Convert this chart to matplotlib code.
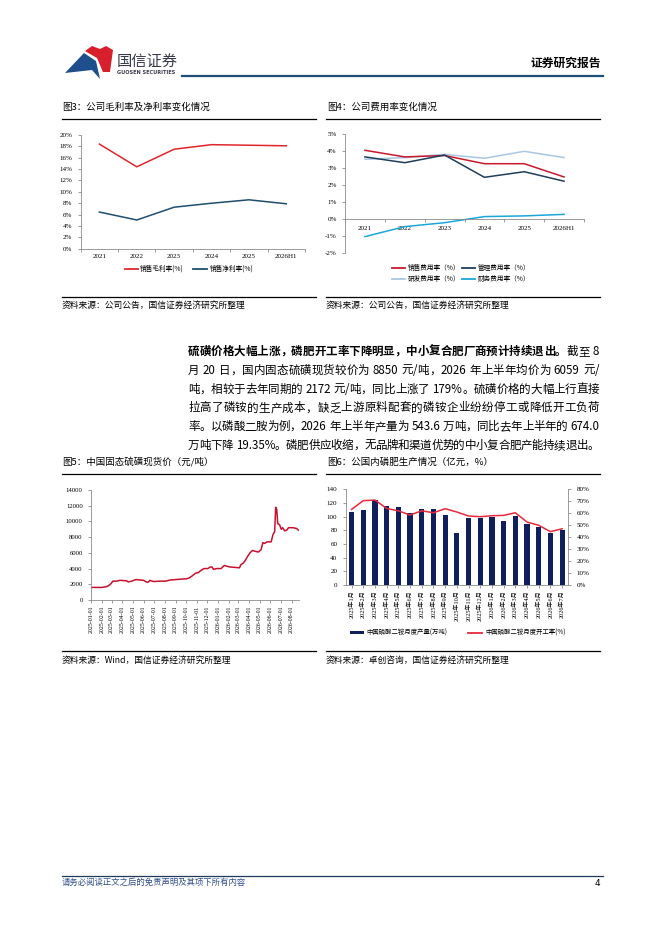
import re
import matplotlib
matplotlib.use("Agg")
import matplotlib.pyplot as plt
from matplotlib.lines import Line2D
from matplotlib.patches import Polygon, Rectangle
import numpy as np
import pandas as pd

plt.rcParams['font.family'] = ['Noto Sans CJK SC', 'DejaVu Sans']

W, H = 662, 936
CJK = ['Noto Sans CJK SC', 'DejaVu Sans']
SERIF = ['Liberation Serif', 'Noto Sans CJK SC']

# ---------------- data ----------------
years3 = ['2021', '2022', '2023', '2024', '2025', '2026H1']
gross_margin = [18.4, 14.4, 17.5, 18.3, 18.2, 18.1]
net_margin = [6.45, 5.05, 7.3, 8.0, 8.6, 7.9]

years4 = ['2021', '2022', '2023', '2024', '2025', '2026H1']
sales_exp = [4.06, 3.67, 3.75, 3.27, 3.27, 2.49]
admin_exp = [3.67, 3.33, 3.78, 2.47, 2.80, 2.24]
rd_exp = [3.53, 3.63, 3.82, 3.59, 4.00, 3.63]
fin_exp = [-1.02, -0.43, -0.20, 0.16, 0.20, 0.29]

sulfur_dates = ['2025-01-01', '2025-01-17', '2025-02-01', '2025-02-15', '2025-02-23',
                '2025-02-28', '2025-03-05', '2025-03-16', '2025-03-25', '2025-04-13',
                '2025-04-18', '2025-04-28', '2025-05-10', '2025-05-22', '2025-06-01',
                '2025-06-09', '2025-06-14', '2025-06-19', '2025-06-22', '2025-06-30',
                '2025-07-19', '2025-08-03', '2025-08-18', '2025-09-01', '2025-09-16',
                '2025-10-03', '2025-10-10', '2025-10-20', '2025-10-28', '2025-11-06',
                '2025-11-14', '2025-11-22', '2025-12-03', '2025-12-10', '2025-12-15',
                '2025-12-19', '2025-12-28', '2026-01-10', '2026-01-19', '2026-01-26',
                '2026-02-05', '2026-02-19', '2026-03-04', '2026-03-08', '2026-03-15',
                '2026-03-20', '2026-03-28', '2026-04-03', '2026-04-10', '2026-04-18',
                '2026-04-27', '2026-05-05', '2026-05-10', '2026-05-15', '2026-05-22',
                '2026-06-03', '2026-06-08', '2026-06-13', '2026-06-16', '2026-06-19',
                '2026-06-22', '2026-06-27', '2026-07-02', '2026-07-06', '2026-07-12',
                '2026-07-18', '2026-07-23', '2026-08-05', '2026-08-15', '2026-08-20']
sulfur_price = [1600, 1600, 1600, 1700, 1900,
                2100, 2400, 2400, 2500, 2450,
                2300, 2400, 2600, 2550, 2500,
                2300, 2250, 2500, 2450, 2350,
                2400, 2400, 2550, 2600, 2650,
                2700, 2800, 3100, 3400, 3500,
                3800, 4000, 4000, 4200, 4200,
                3900, 4000, 4000, 4400, 4300,
                4200, 4150, 4100, 4500, 4700,
                5000, 5600, 6000, 6300, 6200,
                6100, 6400, 7300, 7200, 7400,
                7400, 8300, 8700, 11800, 11500,
                9700, 9600, 9000, 9200, 8800,
                8900, 9200, 9200, 9100, 8900]
sulfur_ticks = ['2025-01-01', '2025-02-01', '2025-03-01', '2025-04-01', '2025-05-01',
                '2025-06-01', '2025-07-01', '2025-08-01', '2025-09-01', '2025-10-01',
                '2025-11-01', '2025-12-01', '2026-01-01', '2026-02-01', '2026-03-01',
                '2026-04-01', '2026-05-01', '2026-06-01', '2026-07-01', '2026-08-01']

months6 = ['2025年1月', '2025年2月', '2025年3月', '2025年4月', '2025年5月', '2025年6月',
           '2025年7月', '2025年8月', '2025年9月', '2025年10月', '2025年11月', '2025年12月',
           '2026年1月', '2026年2月', '2026年3月', '2026年4月', '2026年5月', '2026年6月',
           '2026年7月']
dap_output = [107, 110, 124, 115, 114, 106, 111, 111, 103, 76, 98, 98, 99.5, 93, 101,
              89, 85, 76, 80.5]
dap_rate = [63.2, 70.5, 71.0, 64.0, 62.0, 58.5, 62.0, 60.4, 63.8, 61.0, 57.7, 57.1,
            57.9, 58.2, 60.4, 52.6, 49.9, 44.6, 47.0]

# ---------------- helpers ----------------
fig = plt.figure(figsize=(W / 100, H / 100), dpi=100)
fig.patch.set_facecolor('white')


def fx(x):
    return x / W


def fy(y):
    return 1 - y / H


def rect(x0, y0, x1, y1):
    return [x0 / W, 1 - y1 / H, (x1 - x0) / W, (y1 - y0) / H]


def ptext(x, y, s, **kw):
    kw.setdefault('family', CJK)
    return fig.text(fx(x), fy(y), s, **kw)


def hline(x0, x1, y, color='black', lw=0.9):
    fig.add_artist(Line2D([fx(x0), fx(x1)], [fy(y), fy(y)], color=color, lw=lw,
                          transform=fig.transFigure))


def legend_line(x0, x1, y, color, lw=1.3):
    fig.add_artist(Line2D([fx(x0), fx(x1)], [fy(y), fy(y)], color=color, lw=lw,
                          transform=fig.transFigure))


AXC = '#8c8c8c'


def style_axes(ax, right=False):
    for s in ['top', 'right']:
        ax.spines[s].set_visible(False)
    if right:
        ax.spines['right'].set_visible(True)
    for s in ax.spines.values():
        s.set_color(AXC)
        s.set_linewidth(0.6)
    ax.tick_params(colors=AXC, width=0.6, length=2.5, labelsize=5, labelcolor='black')
    for lab in ax.get_xticklabels() + ax.get_yticklabels():
        lab.set_family(SERIF)


# ---------------- header ----------------
blue_logo = Polygon([(fx(65), fy(73)), (fx(84), fy(53)), (fx(96), fy(61)),
                     (fx(100), fy(79)), (fx(92), fy(70))], closed=True,
                    facecolor='#1f4e8c', edgecolor='none', transform=fig.transFigure)
red_logo = Polygon([(fx(85), fy(51)), (fx(92), fy(46)), (fx(100), fy(49)),
                    (fx(106), fy(46)), (fx(113), fy(50)), (fx(110), fy(72)),
                    (fx(103), fy(72)), (fx(97), fy(58))], closed=True,
                   facecolor='#d7202b', edgecolor='none', transform=fig.transFigure)
fig.add_artist(blue_logo)
fig.add_artist(red_logo)
ptext(117, 61, '国信证券', fontsize=11, color='#3a3a4e', va='center', ha='left')
ptext(117, 72.5, 'GUOSEN SECURITIES', fontsize=3.6, color='#3a3a4e', va='center',
      ha='left', weight='bold', family=['DejaVu Sans'])
ptext(601, 63, '证券研究报告', fontsize=8.5, weight='bold', va='center', ha='right')
hline(182, 603, 75.5, color='#1f4e79', lw=1.6)

# ---------------- figure 3 ----------------
ptext(62, 107, '图3：公司毛利率及净利率变化情况', fontsize=6.8, va='center', ha='left')
hline(62, 316, 119)
ax3 = fig.add_axes(rect(80.7, 135, 305, 248.7))
x3 = np.arange(len(years3))
ax3.plot(x3, np.array(gross_margin) / 100, color='#e0262b', lw=1.1)
ax3.plot(x3, np.array(net_margin) / 100, color='#1f4e6e', lw=1.1)
ax3.set_xlim(-0.5, len(years3) - 0.5)
ax3.set_ylim(0, 0.20)
ax3.set_yticks(np.arange(0, 0.201, 0.02))
ax3.set_yticklabels([f'{int(round(v * 100))}%' for v in np.arange(0, 0.201, 0.02)])
ax3.set_xticks(x3)
ax3.set_xticklabels(years3)
ax3.set_xticks(np.arange(-0.5, len(years3)), minor=True)
style_axes(ax3)
ax3.tick_params(axis='x', which='major', length=0, pad=4)
ax3.tick_params(axis='x', which='minor', length=2.5, colors=AXC, width=0.6)
legend_line(125, 138, 269, '#e0262b')
ptext(140, 269, '销售毛利率(%)', fontsize=4.8, va='center', ha='left')
legend_line(193, 207, 269, '#1f4e6e')
ptext(210, 269, '销售净利率(%)', fontsize=4.8, va='center', ha='left')
hline(62, 316, 296.5)
ptext(62, 305.5, '资料来源：公司公告，国信证券经济研究所整理', fontsize=6.3, va='center', ha='left')

# ---------------- figure 4 ----------------
ptext(327, 107, '图4：公司费用率变化情况', fontsize=6.8, va='center', ha='left')
hline(326, 600, 119)
ax4 = fig.add_axes(rect(345, 134.3, 584, 253.3))
x4 = np.arange(len(years4))
c_sales, c_admin, c_rd, c_fin = '#c8192e', '#1f3e5a', '#a9c6e3', '#1aa7d8'
ax4.plot(x4, rd_exp, color=c_rd, lw=1.1)
ax4.plot(x4, sales_exp, color=c_sales, lw=1.1)
ax4.plot(x4, admin_exp, color=c_admin, lw=1.1)
ax4.plot(x4, fin_exp, color=c_fin, lw=1.1)
ax4.set_xlim(-0.5, len(years4) - 0.5)
ax4.set_ylim(-2, 5)
ax4.set_yticks(np.arange(-2, 5.1, 1))
ax4.set_yticklabels([f'{int(v)}%' for v in np.arange(-2, 5.1, 1)])
ax4.spines['bottom'].set_position(('data', 0))
ax4.set_xticks(x4)
ax4.set_xticklabels(years4)
ax4.set_xticks(np.arange(-0.5, len(years4)), minor=True)
style_axes(ax4)
ax4.tick_params(axis='x', which='major', length=0, pad=5)
ax4.tick_params(axis='x', which='minor', length=2.5, colors=AXC, width=0.6)
legend_line(392, 405, 268, c_sales)
ptext(408, 268, '销售费用率（%）', fontsize=4.8, va='center', ha='left')
legend_line(462, 475, 268, c_admin)
ptext(478, 268, '管理费用率（%）', fontsize=4.8, va='center', ha='left')
legend_line(392, 405, 278.5, c_rd)
ptext(408, 278.5, '研发费用率（%）', fontsize=4.8, va='center', ha='left')
legend_line(462, 475, 278.5, c_fin)
ptext(478, 278.5, '财务费用率（%）', fontsize=4.8, va='center', ha='left')
hline(326, 600, 296.5)
ptext(326, 305.5, '资料来源：公司公告，国信证券经济研究所整理', fontsize=6.3, va='center', ha='left')

# ---------------- body paragraph ----------------
fig.canvas.draw()
renderer = fig.canvas.get_renderer()
BODY = 8.3


def justify(segments, x0, x1, y, size=BODY):
    toks = []
    for s, w in segments:
        for m in re.finditer(r'[A-Za-z0-9.%/]+| |.', s):
            toks.append((m.group(), w))
    objs, widths = [], []
    for t, w in toks:
        if t == ' ':
            objs.append(None)
            widths.append(size * 100 / 72 * 0.28)
            continue
        o = fig.text(0, fy(y), t, fontsize=size, weight=w, family=CJK,
                     va='center', ha='left')
        objs.append(o)
        widths.append(o.get_window_extent(renderer).width)
    n = len(toks)
    gap = (x1 - x0 - sum(widths)) / max(n - 1, 1)
    x = x0
    for o, wd in zip(objs, widths):
        if o is not None:
            o.set_x(fx(x))
        x += wd + gap


lines = [
    [('硫磺价格大幅上涨，磷肥开工率下降明显，中小复合肥厂商预计持续退出。', 'bold'), ('截至 8', 'normal')],
    [('月 20 日，国内固态硫磺现货较价为 8850 元/吨，2026 年上半年均价为 6059 元/', 'normal')],
    [('吨，相较于去年同期的 2172 元/吨，同比上涨了 179%。硫磺价格的大幅上行直接', 'normal')],
    [('拉高了磷铵的生产成本，缺乏上游原料配套的磷铵企业纷纷停工或降低开工负荷', 'normal')],
    [('率。以磷酸二胺为例，2026 年上半年产量为 543.6 万吨，同比去年上半年的 674.0', 'normal')],
    [('万吨下降 19.35%。磷肥供应收缩，无品牌和渠道优势的中小复合肥产能持续退出。', 'normal')],
]
ys = [351.5, 370.3, 389.1, 407.9, 426.7, 445.5]
for seg, yy in zip(lines, ys):
    justify(seg, 188, 599, yy)

# ---------------- figure 5 ----------------
ptext(62, 462.5, '图5：中国固态硫磺现货价（元/吨）', fontsize=6.8, va='center', ha='left')
hline(62, 316, 474)
ax5 = fig.add_axes(rect(91, 490, 299, 600))
d5 = pd.to_datetime(sulfur_dates)
ax5.plot(d5, sulfur_price, color='#c8102e', lw=1.1)
ax5.set_ylim(0, 14000)
ax5.set_yticks(np.arange(0, 14001, 2000))
ax5.set_yticklabels([f'{int(v)}' for v in np.arange(0, 14001, 2000)])
tk = pd.to_datetime(sulfur_ticks)
ax5.set_xticks(tk)
ax5.set_xticklabels(sulfur_ticks, rotation=90)
ax5.set_xlim(pd.Timestamp('2025-01-01'), pd.Timestamp('2026-08-22'))
style_axes(ax5)
ax5.tick_params(axis='x', labelsize=4.2, length=2.5, pad=1.5)
ax5.tick_params(axis='y', labelsize=4.8)
hline(62, 316, 651)
ptext(62, 660, '资料来源：Wind，国信证券经济研究所整理', fontsize=6.3, va='center', ha='left')

# ---------------- figure 6 ----------------
ptext(327, 462.5, '图6：公国内磷肥生产情况（亿元，%）', fontsize=6.8, va='center', ha='left')
hline(326, 600, 474)
ax6 = fig.add_axes(rect(345.7, 489.3, 568, 585))
x6 = np.arange(len(months6))
bar_c, line_c = '#0f1f5e', '#e8283c'
ax6.bar(x6, dap_output, width=0.45, color=bar_c, zorder=2)
ax6.set_xlim(-0.5, len(months6) - 0.5)
ax6.set_ylim(0, 140)
ax6.set_yticks(np.arange(0, 141, 20))
ax6.set_xticks(x6)
ax6.set_xticklabels(months6, rotation=90)
ax6b = ax6.twinx()
ax6b.plot(x6, np.array(dap_rate) / 100, color=line_c, lw=1.1, zorder=3)
ax6b.set_ylim(0, 0.8)
ax6b.set_yticks(np.arange(0, 0.81, 0.1))
ax6b.set_yticklabels([f'{int(round(v * 100))}%' for v in np.arange(0, 0.81, 0.1)])
style_axes(ax6)
style_axes(ax6b, right=True)
ax6b.spines['left'].set_visible(False)
ax6b.spines['bottom'].set_visible(False)
ax6.spines['right'].set_visible(False)
ax6.tick_params(axis='x', labelsize=4.4, length=2.5, pad=1.5)
for lab in ax6.get_xticklabels():
    lab.set_family(SERIF)
ax6.tick_params(axis='y', labelsize=5)
ax6b.tick_params(axis='y', labelsize=5)
fig.add_artist(Rectangle((fx(350), fy(634.3)), (364 - 350) / W, 3.2 / H,
                         facecolor=bar_c, edgecolor='none', transform=fig.transFigure))
ptext(366, 632.7, '中国磷酸二铵月度产量(万吨)', fontsize=4.6, va='center', ha='left')
legend_line(468, 482, 632.7, line_c)
ptext(485, 632.7, '中国磷酸二铵月度开工率(%)', fontsize=4.6, va='center', ha='left')
hline(326, 600, 651)
ptext(326, 660, '资料来源：卓创咨询，国信证券经济研究所整理', fontsize=6.3, va='center', ha='left')

# ---------------- footer ----------------
hline(62, 603, 875.7, color='#1f3b5c', lw=0.9)
ptext(62, 882.5, '请务必阅读正文之后的免责声明及其项下所有内容', fontsize=6, style='italic',
      color='#2e4d8a', va='center', ha='left')
ptext(600, 883, '4', fontsize=6.5, va='center', ha='right', family=['DejaVu Sans'])

fig.savefig('out.png', dpi=100, facecolor='white')
